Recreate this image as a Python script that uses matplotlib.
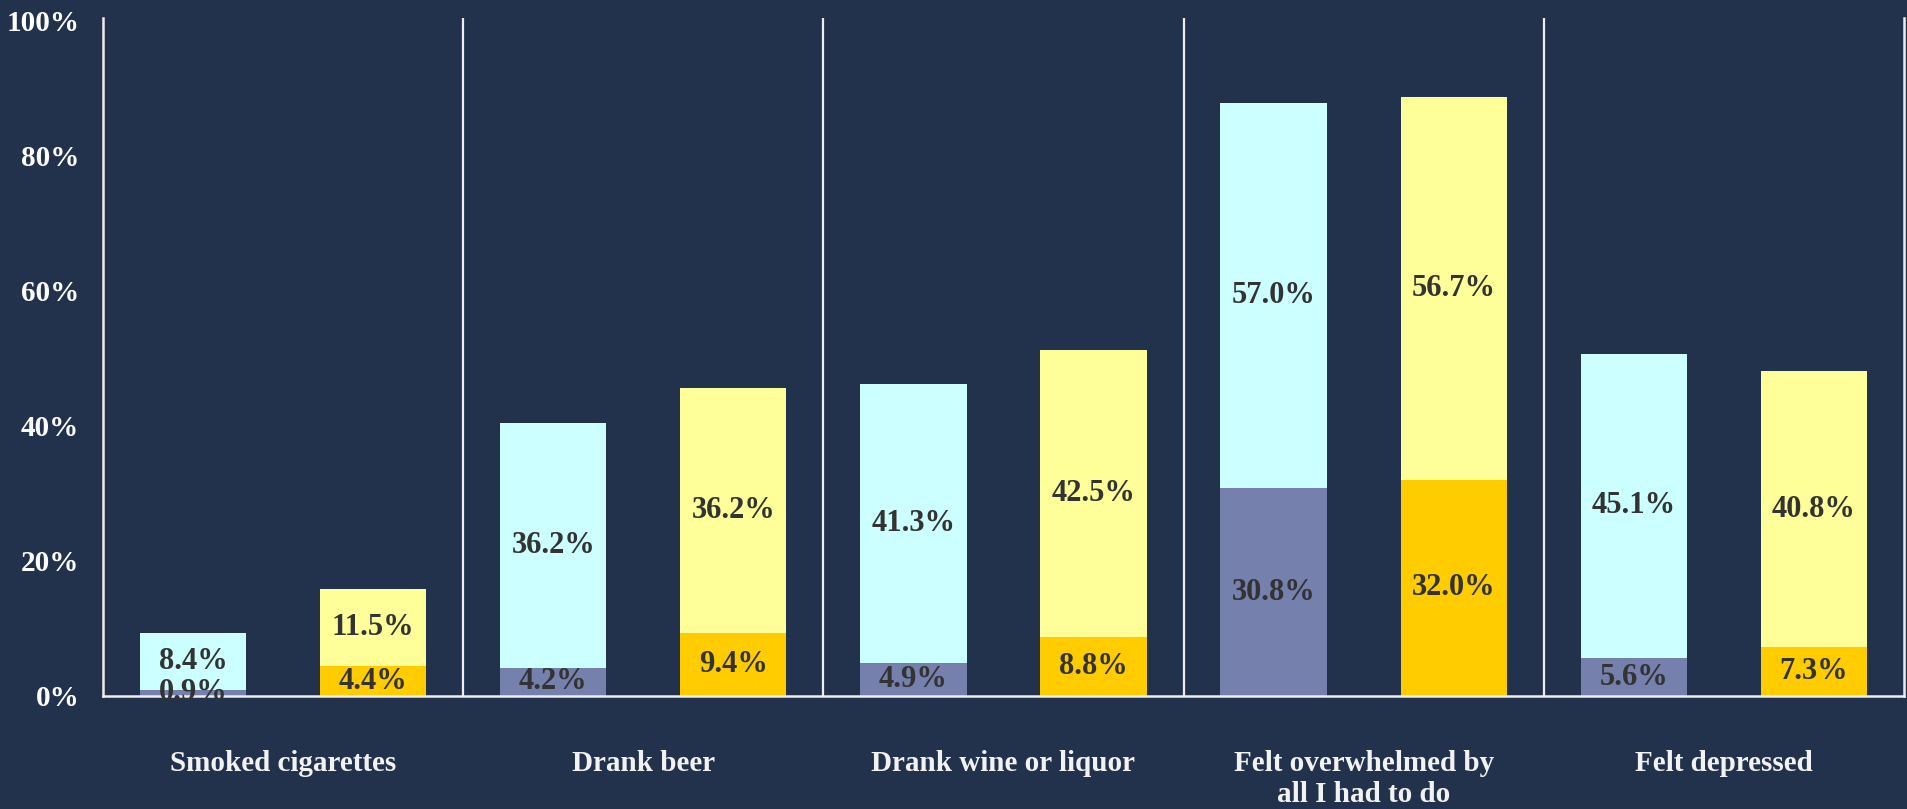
import matplotlib
matplotlib.use("Agg")
import matplotlib.pyplot as plt
import numpy as np

categories = ["Smoked cigarettes", "Drank beer", "Drank wine or liquor",
              "Felt overwhelmed by\nall I had to do", "Felt depressed"]
a_bottom = [0.9, 4.2, 4.9, 30.8, 5.6]
a_top = [8.4, 36.2, 41.3, 57.0, 45.1]
b_bottom = [4.4, 9.4, 8.8, 32.0, 7.3]
b_top = [11.5, 36.2, 42.5, 56.7, 40.8]
yticks = [0, 20, 40, 60, 80, 100]
ytick_labels = ["0%", "20%", "40%", "60%", "80%", "100%"]

BG = "#22324C"
LINE = "#EEEEEE"
plt.rcParams['font.family'] = ['Liberation Serif', 'DejaVu Serif']

fig = plt.figure(figsize=(19.07, 8.09), dpi=100, facecolor=BG)
ax = fig.add_axes([0.054, 0.1397, 0.9444, 0.8381], facecolor=BG)

x = np.arange(len(categories))
w = 0.295
xa = x + 0.25
xb = x + 0.75
ax.bar(xa, a_bottom, w, color="#7580AC", zorder=2)
ax.bar(xa, a_top, w, bottom=a_bottom, color="#CCFFFF", zorder=2)
ax.bar(xb, b_bottom, w, color="#FFCC00", zorder=2)
ax.bar(xb, b_top, w, bottom=b_bottom, color="#FFFF99", zorder=2)

txt = dict(ha="center", va="center", fontsize=22, fontweight="bold", color="#333333", zorder=4)
for i in range(len(categories)):
    ax.text(xa[i], a_bottom[i] / 2, f"{a_bottom[i]:.1f}%", **txt)
    ax.text(xa[i], a_bottom[i] + a_top[i] / 2, f"{a_top[i]:.1f}%", **txt)
    ax.text(xb[i], b_bottom[i] / 2, f"{b_bottom[i]:.1f}%", **txt)
    ax.text(xb[i], b_bottom[i] + b_top[i] / 2, f"{b_top[i]:.1f}%", **txt)

for xv in range(1, len(categories)):
    ax.axvline(xv, color=LINE, lw=1.6, zorder=1)

ax.set_xlim(0, len(categories))
ax.set_ylim(0, 100.45)
ax.set_yticks(yticks)
ax.set_yticklabels(ytick_labels)
ax.set_xticks(x + 0.5)
ax.set_xticklabels(categories, linespacing=1.2)
ax.tick_params(axis="y", length=0, pad=17, labelsize=21, labelcolor="white")
ax.tick_params(axis="x", length=0, pad=39, labelsize=21, labelcolor="#F2F2F2")
for lab in ax.get_yticklabels() + ax.get_xticklabels():
    lab.set_fontweight("bold")

for s in ["left", "bottom", "right"]:
    ax.spines[s].set_color(LINE)
    ax.spines[s].set_linewidth(1.8)
ax.spines["top"].set_visible(False)

fig.savefig("out.png", dpi=100, facecolor=BG)
